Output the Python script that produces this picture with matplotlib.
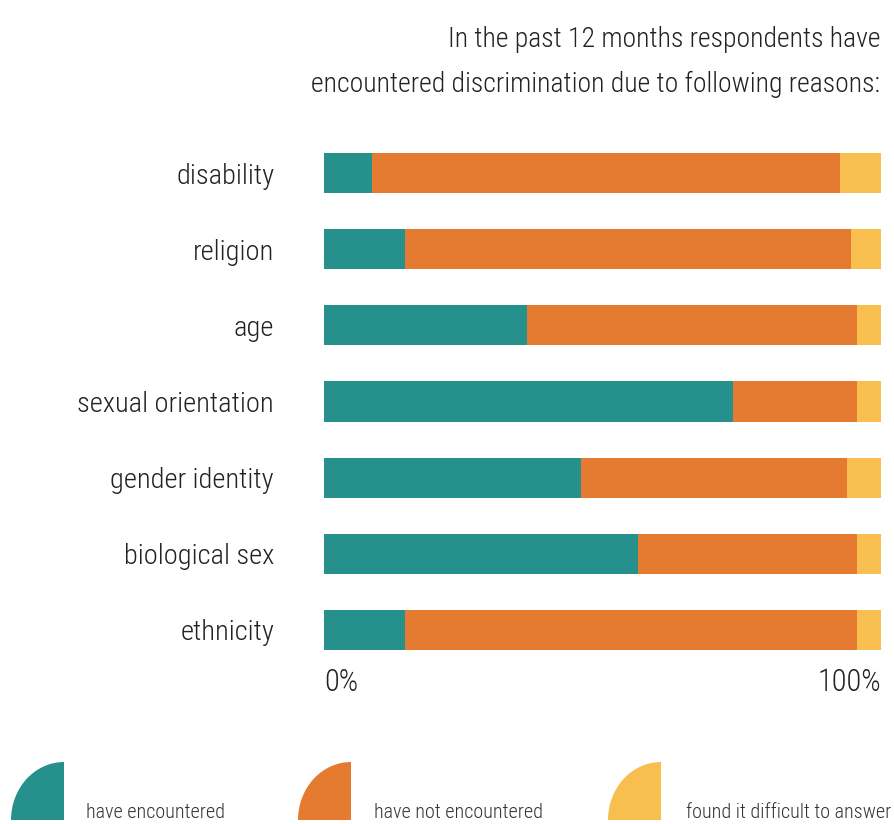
import matplotlib
matplotlib.use("Agg")
import matplotlib.pyplot as plt
from matplotlib import font_manager
from matplotlib.patches import Wedge

# survey data (percent of respondents)
reasons = ["disability", "religion", "age", "sexual orientation",
           "gender identity", "biological sex", "ethnicity"]
encountered = [8.6, 14.5, 36.4, 73.4, 46.1, 56.4, 14.5]
not_encountered = [84.0, 80.1, 59.3, 22.3, 47.8, 39.3, 81.2]
difficult = [7.4, 5.4, 4.3, 4.3, 6.1, 4.3, 4.3]

series_labels = ["have encountered", "have not encountered", "found it difficult to answer"]
colours = ["#25908c", "#e47b30", "#f9be50"]

title = "In the past 12 months respondents have\nencountered discrimination due to following reasons:"

# pick a narrow font if one is installed
installed = {f.name for f in font_manager.fontManager.ttflist}
family = "DejaVu Sans"
for cand in ["Roboto Condensed", "Liberation Sans Narrow", "Open Sans Condensed", "DejaVu Sans Condensed"]:
    if cand in installed:
        family = cand
        break
plt.rcParams["font.family"] = [family, "DejaVu Sans"]
plt.rcParams["font.weight"] = "light"

W, H = 894, 824
fig = plt.figure(figsize=(W / 100, H / 100), dpi=100)

ax = fig.add_axes([324 / W, 1 - 650 / H, (881 - 324) / W, (650 - 153) / H])
ypos = list(range(len(reasons)))
bar_h = 40 / 76

left = [0] * len(reasons)
for vals, col in zip([encountered, not_encountered, difficult], colours):
    ax.barh(ypos, vals, left=left, height=bar_h, color=col, linewidth=0)
    left = [l + v for l, v in zip(left, vals)]

ax.set_xlim(0, 100)
ax.set_ylim(len(reasons) - 1 + bar_h / 2, -bar_h / 2)
ax.set_yticks(ypos)
ax.set_yticklabels(reasons, fontsize=20.5, color="#222222")
ax.tick_params(axis="y", length=0, pad=36)
ax.set_xticks([])
for s in ax.spines.values():
    s.set_visible(False)

ax.text(0, 6.5, "0%", ha="left", va="top", fontsize=22, color="#222222")
ax.text(100, 6.5, "100%", ha="right", va="top", fontsize=22, color="#222222")

fig.text(880 / W, 1 - 92 / H, title, ha="right", va="baseline", fontsize=20,
         color="#222222", linespacing=1.85, multialignment="right")

# legend: quarter-ellipse keys
key_x = [11, 298, 608]
text_x = [86, 374, 686]
for kx, tx, col, lab in zip(key_x, text_x, colours, series_labels):
    kax = fig.add_axes([kx / W, 1 - 820 / H, 53 / W, 58 / H])
    kax.add_patch(Wedge((1, 0), 1, 90, 180, color=col, linewidth=0))
    kax.set_xlim(0, 1)
    kax.set_ylim(0, 1)
    kax.axis("off")
    fig.text(tx / W, 1 - 818 / H, lab, ha="left", va="baseline", fontsize=14.5,
             color="#333333")

fig.savefig("out.png", dpi=100)
